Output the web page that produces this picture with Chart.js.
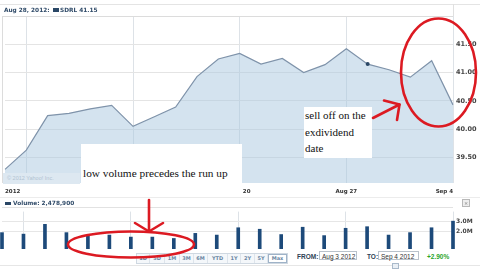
<!DOCTYPE html>
<html><head><meta charset="utf-8">
<script src="https://cdn.jsdelivr.net/npm/chart.js@4/dist/chart.umd.min.js"></script>
<style>
html,body{margin:0;padding:0;background:#fff;}
#wrap{position:relative;width:480px;height:272px;overflow:hidden;font-family:'DejaVu Sans',sans-serif;}
canvas{position:absolute;left:0;}
#c1{top:0;}
#c2{top:205px;}
.a{position:absolute;white-space:nowrap;}
.hdr{font-weight:bold;font-size:5.8px;color:#2f4a68;line-height:8px;}
.btns{position:absolute;left:136px;top:253px;height:9px;display:flex;border:1px solid #cfd8e1;background:#f4f7fa;}
.btns span{display:block;height:9px;line-height:9px;text-align:center;font-size:5px;font-weight:bold;color:#6a86a3;border-right:1px solid #dde4eb;}
.inp{position:absolute;height:9px;border:1px solid #b9c2cb;font-family:'Liberation Sans',sans-serif;font-size:6.5px;line-height:9px;color:#333;padding-left:2px;box-sizing:border-box;}
.lbl{position:absolute;font-family:'Liberation Sans',sans-serif;font-weight:bold;font-size:6.5px;color:#2f3f55;line-height:9px;}
.note{position:absolute;background:#fff;font-family:'Liberation Serif',serif;color:#111;}
</style></head>
<body>
<div id="wrap">
<canvas id="c1" width="480" height="200"></canvas>
<canvas id="c2" width="480" height="44"></canvas>

<div class="a" style="left:0;top:4px;width:480px;border-top:1px solid #e4e4e4;"></div>
<div class="a" style="left:2px;top:16px;width:451px;border-top:1px solid #dcdcdc;"></div>
<div class="a" style="left:453px;top:4px;height:12px;border-left:1px solid #e0e0e0;"></div>
<div class="a" style="left:2px;top:16px;height:167px;border-left:1px solid #dcdcdc;"></div>
<div class="a hdr" style="left:4px;top:6px;">Aug 28, 2012:</div>
<div class="a" style="left:53px;top:8px;width:6px;height:4px;background:#2a4766;"></div>
<div class="a hdr" style="left:60px;top:6px;" id="hdrVal"></div>

<div class="a" style="left:3px;top:173px;width:77px;height:11px;background:#dde8f1;font-family:'Liberation Sans',sans-serif;font-size:5.5px;color:#b2c3d2;line-height:11px;padding-left:4px;box-sizing:border-box;">© 2012 Yahoo! Inc.</div>

<div class="a" style="left:0;top:197px;width:480px;border-top:1px solid #ececec;"></div>
<div class="a" style="left:5px;top:202px;width:6px;height:3px;background:#2a4766;"></div>
<div class="a hdr" style="left:13px;top:199px;" id="volHdr"></div>
<div class="a" style="left:2px;top:207px;width:451px;border-top:1px solid #e2e2e2;"></div>
<div class="a" style="left:462px;top:199px;width:6px;height:6px;border:1px solid #b8b8b8;background:#eee;font-size:5px;line-height:6px;text-align:center;color:#777;">×</div>

<div class="btns" id="btns"></div>
<div class="lbl" style="left:297px;top:252px;">FROM:</div>
<div class="inp" style="left:319px;top:251px;width:38px;">Aug 3 2012</div>
<div class="lbl" style="left:367px;top:252px;">TO:</div>
<div class="inp" style="left:378px;top:251px;width:41px;">Sep 4 2012</div>
<div class="lbl" style="left:427px;top:252px;color:#2aa52a;" id="chg"></div>
<div class="a" style="left:0;top:265px;width:480px;border-top:1px solid #e6e6e6;"></div>
<div class="a" style="left:392px;top:263px;width:5px;height:4px;border:1px solid #a9b9ca;background:#e9eff5;"></div>

<div class="note" style="left:81px;top:144px;width:161px;height:53px;">
  <div style="position:absolute;left:2px;top:22px;font-size:11.3px;line-height:14px;">low volume precedes the run up</div>
</div>
<div class="note" style="left:304px;top:107px;width:68px;height:51px;font-size:11px;line-height:16.7px;padding-left:1px;box-sizing:border-box;">sell off on the<br>exdividend<br>date</div>

<svg class="a" style="left:0;top:0;" width="480" height="272">
  <g fill="none" stroke="#dc1a22" stroke-width="2.6" stroke-linecap="round" stroke-linejoin="round">
    <ellipse cx="438.5" cy="72.5" rx="37.5" ry="54"/>
    <line x1="373" y1="118" x2="399.5" y2="104.5"/>
    <polyline points="384,100.5 399.5,104.5 397,120"/>
    <line x1="149" y1="200" x2="149" y2="231"/>
    <polyline points="135,223 149,231.5 163,223"/>
    <ellipse cx="131" cy="244.5" rx="63" ry="13"/>
  </g>
</svg>
</div>

<script>
// ---- data ----
const dates = ['Aug 3','Aug 6','Aug 7','Aug 8','Aug 9','Aug 10','Aug 13','Aug 14','Aug 15','Aug 16','Aug 17',
               'Aug 20','Aug 21','Aug 22','Aug 23','Aug 24','Aug 27','Aug 28','Aug 29','Aug 30','Aug 31','Sep 4'];
const prices = [39.29, 39.63, 40.24, 40.28, 40.36, 40.42, 40.05, 40.22, 40.39, 40.93, 41.24,
                41.34, 41.15, 41.25, 41.00, 41.14, 41.42, 41.15, 41.05, 40.92, 41.21, 40.43];
const volumes = [1920000, 1780000, 2700000, 1920000, 1690000, 1690000, 1500000, 1500000, 1370000, 1850000, 1690000,
                 2380000, 2240000, 1740000, 2430000, 1640000, 2330000, 2478900, 1690000, 1920000, 2380000, 3000000];
const xTickLabels = ['2012','','','','','','Aug 13','','','','','Aug 20','','','','','Aug 27','','','','','Sep 4'];
const priceTicks = [39.5, 40.0, 40.5, 41.0, 41.5];
const volumeTicks = [2000000, 3000000];
const weeklyGridIdx = [1, 6, 11, 16, 21];
const markedIdx = 17;
const rangeButtons = ['1D','5D','1M','3M','6M','YTD','1Y','2Y','5Y','Max'];
const ticker = 'SDRL';

// ---- text ----
document.getElementById('hdrVal').textContent = ticker + ' ' + prices[markedIdx].toFixed(2);
document.getElementById('volHdr').textContent = 'Volume: ' + volumes[markedIdx].toLocaleString('en-US');
document.getElementById('chg').textContent = '+' + ((prices[prices.length-1]/prices[0]-1)*100).toFixed(2) + '%';
const bw = [12,14,14,13,13,19,12,13,12,17];
const bc = document.getElementById('btns');
rangeButtons.forEach((b,i)=>{const s=document.createElement('span');s.textContent=b;s.style.width=bw[i]+'px';
  if(b==='Max'){s.style.border='1px solid #9fb3c8';s.style.height='7px';s.style.lineHeight='7px';s.style.background='#fff';}
  bc.appendChild(s);});

const gridCol = ctx => weeklyGridIdx.includes(ctx.index) ? '#dde2e7' : 'rgba(0,0,0,0)';

new Chart(document.getElementById('c1'), {
  type: 'line',
  data: { labels: dates, datasets: [{
    data: prices, borderColor: '#7f93aa', borderWidth: 1.2, tension: 0,
    fill: 'start', backgroundColor: 'rgba(170,200,224,0.5)',
    pointRadius: ctx => ctx.dataIndex === markedIdx ? 2 : 0,
    pointBackgroundColor: '#2a4766', pointBorderWidth: 0
  }]},
  options: {
    responsive: false, animation: false, events: [],
    layout: { padding: { left: 2, top: 16, right: 0, bottom: 0 } },
    plugins: { legend: { display: false }, tooltip: { enabled: false } },
    scales: {
      x: { offset: false, border: { display: false },
        grid: { color: gridCol, drawTicks: false, offset: false },
        ticks: { autoSkip: false, maxRotation: 0, align: 'inner', padding: 5,
          font: { family: 'DejaVu Sans', size: 5.5, weight: 'bold' }, color: '#333',
          callback: (v, i) => xTickLabels[i] },
        afterFit: s => { s.height = 17; } },
      y: { position: 'right', min: 39.05, max: 42.0, border: { display: false },
        grid: { color: '#e4e4e4', drawTicks: false },
        afterBuildTicks: s => { s.ticks = priceTicks.map(v => ({ value: v })); },
        afterFit: s => { s.width = 27; },
        ticks: { padding: 3, font: { family: 'DejaVu Sans', size: 6.5, weight: 'bold' }, color: '#444',
          callback: v => Number(v).toFixed(2) } }
    }
  }
});

new Chart(document.getElementById('c2'), {
  type: 'bar',
  data: { labels: dates, datasets: [{ data: volumes, backgroundColor: '#1d4a7a', barThickness: 3, clip: false }] },
  options: {
    responsive: false, animation: false, events: [],
    layout: { padding: { left: 2, top: 2, right: 0, bottom: 0 } },
    plugins: { legend: { display: false }, tooltip: { enabled: false } },
    scales: {
      x: { offset: false, border: { display: false },
        grid: { color: gridCol, drawTicks: false, offset: false },
        ticks: { display: false }, afterFit: s => { s.height = 0; } },
      y: { position: 'right', min: 1000000, max: 3900000, border: { display: false },
        grid: { color: '#e6e6e6', drawTicks: false },
        afterBuildTicks: s => { s.ticks = volumeTicks.map(v => ({ value: v })); },
        afterFit: s => { s.width = 27; },
        ticks: { padding: 3, font: { family: 'DejaVu Sans', size: 6, weight: 'bold' }, color: '#444',
          callback: v => (v / 1e6).toFixed(1) + 'M' } }
    }
  }
});
</script>
</body></html>
